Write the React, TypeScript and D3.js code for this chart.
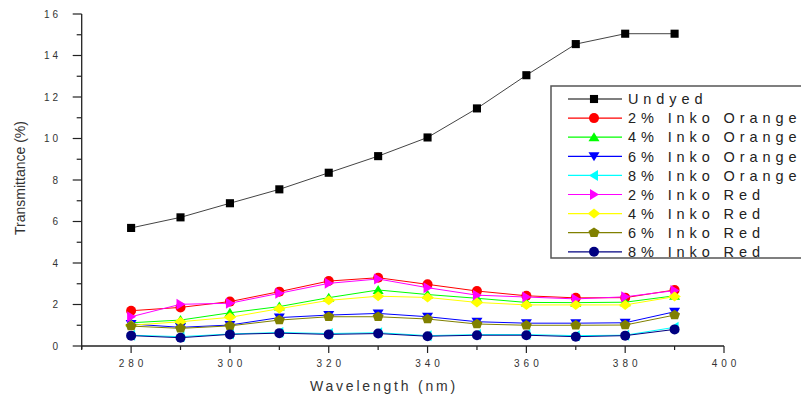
import React from "react";
import * as d3 from "d3";

const wavelengths = [280, 290, 300, 310, 320, 330, 340, 350, 360, 370, 380, 390];

const undyed = [5.69, 6.2, 6.88, 7.55, 8.35, 9.15, 10.05, 11.45, 13.05, 14.55, 15.05, 15.05];
const orange2 = [1.7, 1.86, 2.14, 2.62, 3.13, 3.29, 2.97, 2.65, 2.42, 2.32, 2.33, 2.7];
const orange4 = [1.12, 1.25, 1.6, 1.9, 2.33, 2.7, 2.48, 2.3, 2.1, 2.09, 2.11, 2.42];
const orange6 = [1.06, 0.9, 1.01, 1.37, 1.49, 1.57, 1.41, 1.17, 1.1, 1.1, 1.12, 1.65];
const orange8 = [0.52, 0.45, 0.58, 0.65, 0.6, 0.64, 0.5, 0.55, 0.55, 0.5, 0.52, 0.9];
const red2 = [1.41, 2.01, 2.06, 2.54, 3.02, 3.23, 2.81, 2.45, 2.36, 2.27, 2.37, 2.67];
const red4 = [1.0, 1.17, 1.38, 1.8, 2.2, 2.4, 2.34, 2.1, 1.98, 1.98, 1.98, 2.38];
const red6 = [0.96, 0.85, 0.97, 1.25, 1.41, 1.41, 1.3, 1.06, 1.0, 1.0, 1.01, 1.49];
const red8 = [0.5, 0.4, 0.56, 0.62, 0.56, 0.6, 0.47, 0.52, 0.52, 0.45, 0.5, 0.8];

const seriesNames = [
  "Undyed",
  "2% Inko Orange",
  "4% Inko Orange",
  "6% Inko Orange",
  "8% Inko Orange",
  "2% Inko Red",
  "4% Inko Red",
  "6% Inko Red",
  "8% Inko Red",
];
const seriesValues = [undyed, orange2, orange4, orange6, orange8, red2, red4, red6, red8];
const seriesColors = ["#000000", "#ff0000", "#00ff00", "#0000ff", "#00ffff", "#ff00ff", "#ffff00", "#808000", "#000080"];
const seriesMarkers = ["square", "circle", "up", "down", "left", "right", "diamond", "pentagon", "circle"];

const xTicks = [280, 300, 320, 340, 360, 380, 400];
const xMinor = [270, 290, 310, 330, 350, 370, 390];
const yTicks = [0, 2, 4, 6, 8, 10, 12, 14, 16];
const yMinor = [1, 3, 5, 7, 9, 11, 13, 15];

const FONT = "'Liberation Sans', Arial, sans-serif";

function markerPath(kind: string, s: number): string {
  const h = s / 2;
  switch (kind) {
    case "square":
      return `M${-h * 0.9},${-h * 0.9}H${h * 0.9}V${h * 0.9}H${-h * 0.9}Z`;
    case "circle":
      return d3.symbol(d3.symbolCircle, Math.PI * h * h)() as string;
    case "up":
      return `M0,${-h}L${h * 1.1},${h * 0.8}L${-h * 1.1},${h * 0.8}Z`;
    case "down":
      return `M0,${h}L${h * 1.1},${-h * 0.8}L${-h * 1.1},${-h * 0.8}Z`;
    case "left":
      return `M${-h},0L${h * 0.8},${-h * 1.1}L${h * 0.8},${h * 1.1}Z`;
    case "right":
      return `M${h},0L${-h * 0.8},${-h * 1.1}L${-h * 0.8},${h * 1.1}Z`;
    case "diamond":
      return `M0,${-h}L${h * 1.25},0L0,${h}L${-h * 1.25},0Z`;
    case "pentagon": {
      const pts: string[] = [];
      for (let i = 0; i < 5; i++) {
        const a = -Math.PI / 2 + (i * 2 * Math.PI) / 5;
        pts.push(`${(Math.cos(a) * h * 1.15).toFixed(2)},${(Math.sin(a) * h * 1.05).toFixed(2)}`);
      }
      return "M" + pts.join("L") + "Z";
    }
  }
  return "";
}

export default function App() {
  const W = 801;
  const H = 394;
  const x = d3.scaleLinear().domain([270, 400]).range([81.7, 724]);
  const y = d3.scaleLinear().domain([0, 16]).range([346, 14]);
  const line = d3
    .line<[number, number]>()
    .x((d) => x(d[0]))
    .y((d) => y(d[1]));

  const legendX = 551;
  const legendY = 86;
  const rowH = 19.1;

  return (
    <svg width={W} height={H} style={{ position: "absolute", left: 0, top: 0, background: "#fff" }} fontFamily={FONT}>
      <rect x={0} y={0} width={W} height={H} fill="#fff" />
      {/* axes */}
      <line x1={x(270)} x2={x(270)} y1={y(16)} y2={y(0) + 3} stroke="#222" strokeWidth={1.3} />
      <line x1={x(270)} x2={x(400)} y1={y(0)} y2={y(0)} stroke="#222" strokeWidth={1.3} />
      {yTicks.map((t) => (
        <g key={"yt" + t}>
          <line x1={x(270) - 9} x2={x(270)} y1={y(t)} y2={y(t)} stroke="#222" strokeWidth={1.2} />
          <text x={61} y={y(t)} dy="0.35em" textAnchor="end" fontSize={10} fill="#333" letterSpacing={3}>
            {t}
          </text>
        </g>
      ))}
      {yMinor.map((t) => (
        <line key={"ym" + t} x1={x(270) - 5} x2={x(270)} y1={y(t)} y2={y(t)} stroke="#222" strokeWidth={1.2} />
      ))}
      {xTicks.map((t) => (
        <g key={"xt" + t}>
          <line x1={x(t)} x2={x(t)} y1={y(0)} y2={y(0) + 7} stroke="#222" strokeWidth={1.2} />
          <text x={x(t) + 2} y={367} textAnchor="middle" fontSize={10} fill="#333" letterSpacing={4}>
            {t}
          </text>
        </g>
      ))}
      {xMinor.map((t) => (
        <line key={"xm" + t} x1={x(t)} x2={x(t)} y1={y(0)} y2={y(0) + 4} stroke="#222" strokeWidth={1.2} />
      ))}
      <text x={384} y={391} textAnchor="middle" fontSize={14} fill="#333" letterSpacing={2.8}>
        Wavelength (nm)
      </text>
      <text
        transform={`translate(25,178) rotate(-90)`}
        textAnchor="middle"
        fontSize={14}
        fill="#333"
      >
        Transmittance (%)
      </text>

      {/* series */}
      {seriesValues.map((vals, si) => {
        const pts = vals.map((v, i) => [wavelengths[i], v] as [number, number]);
        const size = si === 0 ? 9 : 10;
        return (
          <g key={"s" + si}>
            <path d={line(pts) as string} fill="none" stroke={si === 0 ? "#444" : seriesColors[si]} strokeWidth={1} />
            {pts.map((p, i) => (
              <path
                key={i}
                d={markerPath(seriesMarkers[si], size)}
                transform={`translate(${x(p[0])},${y(p[1])})`}
                fill={seriesColors[si]}
              />
            ))}
          </g>
        );
      })}

      {/* legend */}
      <rect x={legendX} y={legendY} width={W - legendX + 10} height={172} fill="#fff" stroke="#555" strokeWidth={1.5} />
      {seriesNames.map((name, i) => {
        const cy = 99 + i * rowH;
        return (
          <g key={"l" + i}>
            <line x1={568} x2={622} y1={cy} y2={cy} stroke={seriesColors[i]} strokeWidth={1.2} />
            <path d={markerPath(seriesMarkers[i], i === 0 ? 9 : 10)} transform={`translate(594,${cy})`} fill={seriesColors[i]} />
            <text x={628} y={cy} dy="0.36em" fontSize={14.5} fill="#222" letterSpacing={4.9}>
              {name}
            </text>
          </g>
        );
      })}
    </svg>
  );
}
